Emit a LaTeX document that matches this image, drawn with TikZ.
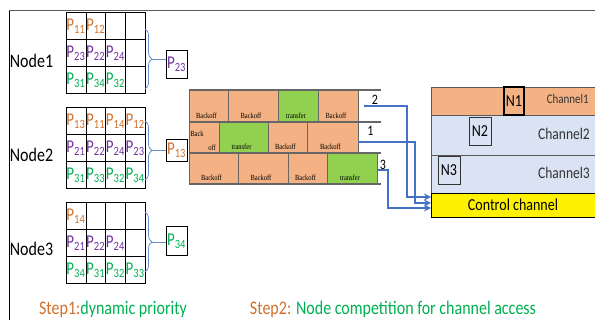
\documentclass[tikz,border=0pt]{standalone}
\usepackage{fontspec}
\usepackage{graphicx}
\setmainfont{Carlito}
\newfontfamily\brickfont{Liberation Serif}
\usetikzlibrary{positioning, decorations.pathreplacing, arrows.meta}

\definecolor{porange}{HTML}{D0702A}
\definecolor{ppurple}{HTML}{7030A0}
\definecolor{pgreen}{HTML}{00B050}
\definecolor{pblue}{HTML}{4472C4}
\definecolor{borange}{HTML}{F4B183}
\definecolor{bgreen}{HTML}{92D050}
\definecolor{cblue}{HTML}{DAE3F3}

% the drawing's text is set a little taller than wide
\newcommand{\tallt}[1]{\scalebox{1}[1.2]{#1}}
\newcommand{\pk}[1]{\tallt{P\textsubscript{#1}}}

\begin{document}
\begin{tikzpicture}[x=1pt, y=-1pt]

\tikzstyle{flow} = [draw=pblue, line width=1.6pt, -{Stealth[length=7pt, width=7pt]}]
\tikzset{cell/.style = {rectangle, draw, minimum width=19.75pt, minimum height=27pt, inner sep=0pt, outer sep=0pt}, }
\tikzset{ptext/.style = {inner sep=0pt, font=\fontsize{15}{15}\selectfont}, }
\tikzset{pbox/.style = {rectangle, draw, minimum width=21pt, inner sep=1pt, font=\fontsize{15}{15}\selectfont}, }
\tikzset{lbl/.style = {inner sep=0pt, font=\fontsize{16}{16}\selectfont}, }
\tikzset{brace/.style = {decorate, decoration={brace, amplitude=7pt}, draw=pblue!80, line width=0.8pt} }
\tikzset{brick/.style = {draw=gray!80!black, line width=0.6pt} }
\tikzset{btext/.style = {inner sep=0pt, font=\brickfont\fontsize{6.5}{6.5}\selectfont} }
\tikzset{chan/.style = {rectangle, draw=gray!70!black, minimum width=164pt, inner sep=0pt, outer sep=0pt} }
\tikzset{nbox/.style = {rectangle, draw=black!80, minimum height=28pt, inner sep=1pt, font=\fontsize{14}{14}\selectfont} }

\useasboundingbox (0,0) rectangle (595,320);

% frame
\draw[gray!70!black, line width=1pt] (9,11) -- (595,11);
\draw[black, line width=1pt] (9,11) -- (9,320);

% priority tables
\foreach \g/\top in {1/12, 2/107, 3/202}
  \foreach \row in {1,2,3}
    \foreach \colm in {1,2,3,4}
      \node[cell] (g\g-\row-\colm) at ({66+19.75*(\colm-0.5)}, {\top+27*(\row-0.5)}) {};

\foreach \g/\row/\tc/\list in {1/1/porange/{11,12}, 1/2/ppurple/{23,22,24}, 1/3/pgreen/{31,34,32},
    2/1/porange/{13,11,14,12}, 2/2/ppurple/{21,22,24,23}, 2/3/pgreen/{31,33,32,34},
    3/1/porange/{14}, 3/2/ppurple/{21,22,24}, 3/3/pgreen/{34,31,32,33}}
  \foreach \idx [count=\colm] in \list
    \node[ptext, text=\tc] at ([yshift=-1pt]g\g-\row-\colm) {\pk{\idx}};

\node[lbl] (n1) at (31.5,61) {\tallt{Node1}};
\node[lbl] (n2) at (31.5,155) {\tallt{Node2}};
\node[lbl] (n3) at (31.5,249) {\tallt{Node3}};

% chosen packet
\node[pbox, minimum height=28pt, text=ppurple] (pb1) at (176.5,64) {\pk{23}};
\node[pbox, minimum height=22pt, text=porange] (pb2) at (176.5,150) {\pk{13}};
\node[pbox, minimum height=29pt, text=pgreen] (pb3) at (176.5,241) {\pk{34}};

\foreach \g/\a/\b in {1/29/89, 2/121/180, 3/212/272}
{
  \draw[brace] (145,\a) -- (145,\b);
  \coordinate (t\g) at (152,{(\a+\b)/2});
  \draw[pblue!80, line width=0.8pt] (t\g) -- (t\g -| pb\g.west);
}

% backoff rows
\foreach \ya/\yb/\xa/\xb/\fc/\txt in {90/122/189/228/borange/Backoff, 90/122/228/278/borange/Backoff,
    90/122/278/318/bgreen/transfer, 90/122/318/358/borange/Backoff,
    122/153/189/219/borange/{}, 122/153/219/268/bgreen/transfer,
    122/153/268/307/borange/Backoff, 122/153/307/358/borange/Backoff,
    153/184/189/238/borange/Backoff, 153/184/238/288/borange/Backoff,
    153/184/288/327/borange/Backoff, 153/184/327/377/bgreen/transfer}
{
  \draw[brick, fill=\fc] (\xa,\ya) rectangle (\xb,\yb);
  \node[btext] at ({(\xa+\xb)/2-2},\yb-6) {\tallt{\txt}};
}
\node[btext] at (197,134) {\tallt{Back}};
\node[btext] at (212,148) {\tallt{off}};

\foreach \y in {90,122,153,184}
  \draw[gray!80!black, line width=1.1pt] (189,\y) -- (381,\y);

\node[lbl, font=\fontsize{12}{12}\selectfont] (l2) at (375,100) {\tallt{2}};
\node[lbl, font=\fontsize{12}{12}\selectfont] (l1) at (370.5,131) {\tallt{1}};
\node[lbl, font=\fontsize{12}{12}\selectfont] (l3) at (383,165) {\tallt{3}};

% channels
\node[chan, fill=borange, minimum height=28pt, anchor=north west] (ch1) at (431,87) {};
\node[chan, fill=cblue, minimum height=40pt, below=0pt of ch1] (ch2) {};
\node[chan, fill=cblue, minimum height=38pt, below=0pt of ch2] (ch3) {};
\node[chan, draw=black, fill=yellow, minimum height=24pt, below=0pt of ch3,
      font=\fontsize{14}{14}\selectfont] (cc) {\tallt{Control channel}};

\node[lbl, anchor=east, text=black!80, font=\fontsize{11}{11}\selectfont] at (589,99) {\tallt{Channel1}};
\node[lbl, anchor=east, text=black!80, font=\fontsize{13.5}{13.5}\selectfont] at (590,134) {\tallt{Channel2}};
\node[lbl, anchor=east, text=black!80, font=\fontsize{13.5}{13.5}\selectfont] at (590,173) {\tallt{Channel3}};

\node[nbox, draw=black, line width=1.2pt, minimum width=20pt] (N1) at (514,101) {\tallt{N1}};
\node[nbox, minimum width=22pt] (N2) at (480,131) {\tallt{N2}};
\node[nbox, minimum width=22pt] (N3) at (449,170) {\tallt{N3}};

% access requests
\coordinate (s2) at (364,106);
\coordinate (s1) at (358,142);
\coordinate (s3) at (378,170);
\draw[flow] (s2) -- (407,106) |- ([yshift=8pt]cc.west);
\draw[flow] (s1) -- (415,142) |- ([yshift=2pt]cc.west);
\draw[flow] (s3) -- (388,170) |- ([yshift=-3pt]cc.west);

% steps
\node[lbl] (st1) at (113,309) {\tallt{\textcolor{porange}{Step1:}\textcolor{pgreen}{dynamic priority}}};
\node[lbl] (st2) at (393,309) {\tallt{\textcolor{porange}{Step2:} \textcolor{pgreen}{Node competition for channel access}}};
\end{tikzpicture}
\end{document}
